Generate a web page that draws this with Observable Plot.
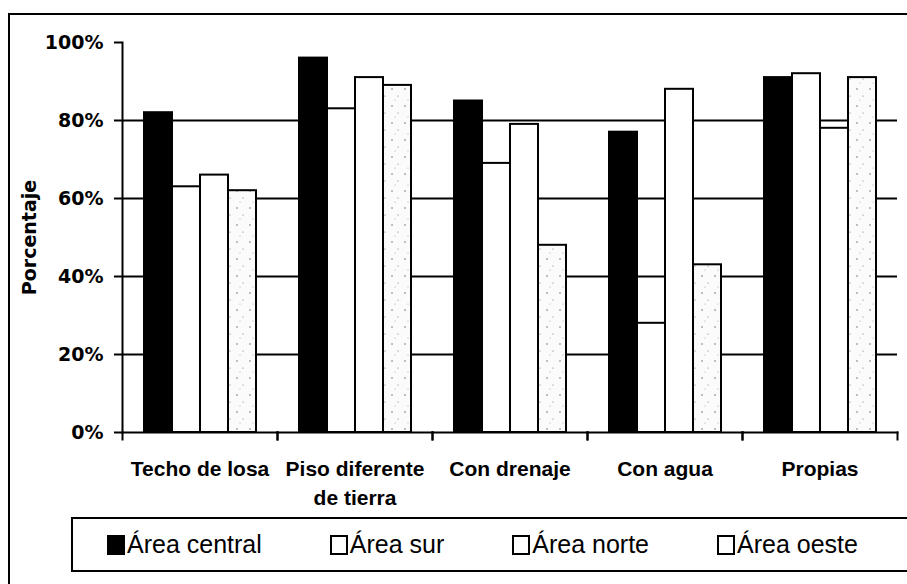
<!DOCTYPE html>
<html>
<head>
<meta charset="utf-8">
<script src="https://cdn.jsdelivr.net/npm/d3@7"></script>
<script src="https://cdn.jsdelivr.net/npm/@observablehq/plot@0.6"></script>
<style>
html, body { margin: 0; padding: 0; background: #fff; width: 907px; height: 584px; overflow: hidden; }
#wrap { position: relative; width: 907px; height: 584px; }
#border { position: absolute; left: 8px; top: 13px; width: 940px; height: 620px; border-left: 2px solid #000; border-top: 2px solid #000; }
#chart { position: absolute; left: 0; top: 0; }
#legend { position: absolute; left: 71px; top: 517px; width: 819px; height: 51px; border: 2px solid #000; background: #fff;
  display: flex; align-items: center; gap: 68px; padding-left: 34px; box-sizing: content-box;
  font-family: "Liberation Sans", Arial, sans-serif; font-size: 25px; color: #000; }
#legend .item { display: flex; align-items: center; white-space: nowrap; }
#legend .sw { width: 14px; height: 16px; border: 2px solid #000; margin-right: 2px; box-sizing: content-box; }
</style>
</head>
<body>
<div id="wrap">
  <div id="border"></div>
  <div id="chart"></div>
  <div id="legend"></div>
</div>
<script>
// ---- data ----
const categories = ["Techo de losa", "Piso diferente de tierra", "Con drenaje", "Con agua", "Propias"];
const categoryLabels = ["Techo de losa", "Piso diferente\nde tierra", "Con drenaje", "Con agua", "Propias"];
const series = ["Área central", "Área sur", "Área norte", "Área oeste"];
const central = [82, 96, 85, 77, 91];
const sur = [63, 83, 69, 28, 92];
const norte = [66, 91, 79, 88, 78];
const oeste = [62, 89, 48, 43, 91];
const yTicks = [0, 20, 40, 60, 80, 100];
const gridTicks = [20, 40, 60, 80];

const seriesValues = [central, sur, norte, oeste];
const fills = ["#000000", "#ffffff", "#ffffff", "url(#stipple)"];

const data = categories.flatMap((c, i) =>
  series.map((s, j) => ({cat: c, serie: s, value: seriesValues[j][i]}))
);

const plot = Plot.plot({
  width: 907,
  height: 584,
  marginLeft: 122,
  marginRight: 10,
  marginTop: 42,
  marginBottom: 152,
  fx: {domain: categories, padding: 0, label: null},
  x: {domain: series, paddingInner: 0, paddingOuter: 0.74, axis: null},
  y: {domain: [0, 100], label: null},
  color: {domain: series, range: fills},
  style: {fontFamily: "'Liberation Sans', Arial, sans-serif", background: "transparent", color: "#000"},
  marks: [
    Plot.ruleY(gridTicks, {stroke: "#000", strokeWidth: 2}),
    Plot.barY(data, {fx: "cat", x: "serie", y: "value", fill: "serie", stroke: "#000", strokeWidth: 2}),
    Plot.frame({anchor: "bottom", stroke: "#000", strokeWidth: 2}),
    Plot.frame({anchor: "left", insetTop: 390, insetBottom: -7, stroke: "#000", strokeWidth: 2}),
    Plot.frame({anchor: "right", insetTop: 390, insetBottom: -7, stroke: "#000", strokeWidth: 2}),
    Plot.frame({anchor: "left", facet: "super", stroke: "#000", strokeWidth: 2}),
    Plot.axisY(yTicks, {
      tickSize: 8, tickPadding: 11, strokeWidth: 2,
      tickFormat: d => d + "%",
      fontSize: 19, fontWeight: "bold", fontFamily: "'DejaVu Sans', sans-serif",
      label: "Porcentaje", labelAnchor: "center", labelOffset: 100, labelArrow: "none"
    }),
    Plot.axisFx({
      anchor: "bottom",
      tickSize: 0, tickPadding: 23,
      tickFormat: d => categoryLabels[categories.indexOf(d)],
      fontSize: 21, fontWeight: "bold", lineHeight: 1.38, label: null
    })
  ]
});

const ns = "http://www.w3.org/2000/svg";
const defs = document.createElementNS(ns, "defs");
defs.innerHTML = `<pattern id="stipple" width="13" height="17" patternUnits="userSpaceOnUse">
  <rect width="13" height="17" fill="#fbfbfb"/>
  <circle cx="3" cy="4" r="0.7" fill="#555"/>
  <circle cx="9" cy="11" r="0.6" fill="#777"/>
  <circle cx="6" cy="15" r="0.5" fill="#999"/>
</pattern>`;
plot.prepend(defs);
document.getElementById("chart").appendChild(plot);

// legend
const legend = document.getElementById("legend");
series.forEach((s, j) => {
  const item = document.createElement("div");
  item.className = "item";
  const sw = document.createElement("span");
  sw.className = "sw";
  sw.style.background = j === 0 ? "#000" : "#fff";
  const t = document.createElement("span");
  t.textContent = s;
  item.appendChild(sw);
  item.appendChild(t);
  legend.appendChild(item);
});
</script>
</body>
</html>
